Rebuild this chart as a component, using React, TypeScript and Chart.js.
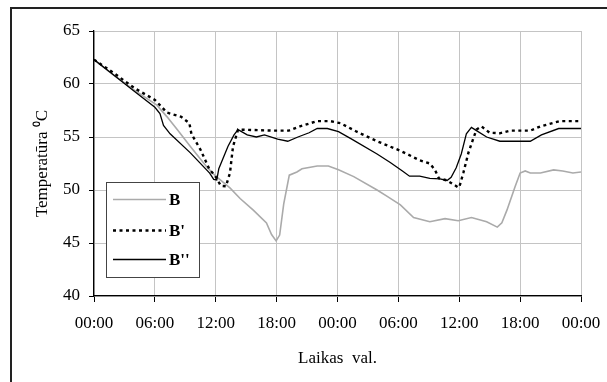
import { useEffect, useRef } from "react";
import { Chart, registerables } from "chart.js";

Chart.register(...registerables);

// ---- Data ----
const xTickLabels = ["00:00", "06:00", "12:00", "18:00", "00:00", "06:00", "12:00", "18:00", "00:00"];
const seriesLabels = ["B", "B'", "B''"];

const bHours = [0, 2, 4, 6.2, 7.2, 8.2, 9.5, 11.1, 12.0, 13.4, 14.4, 15.7, 17.0, 17.5, 17.95, 18.3, 18.7, 19.25, 20.0, 20.5, 22.0, 23.1, 24.1, 25.6, 27.9, 28.9, 30.2, 31.5, 33.1, 34.6, 35.9, 37.2, 38.7, 39.75, 40.2, 40.7, 41.5, 42.0, 42.5, 43.0, 44.0, 45.3, 46.2, 47.2, 48];
const bValues = [62.3, 60.8, 59.4, 58.0, 56.9, 55.7, 54.1, 52.2, 51.3, 50.2, 49.2, 48.1, 46.9, 45.8, 45.2, 45.75, 48.7, 51.4, 51.7, 52.0, 52.26, 52.26, 51.9, 51.26, 50.0, 49.4, 48.6, 47.4, 47.0, 47.3, 47.1, 47.4, 47.0, 46.5, 46.9, 48.1, 50.3, 51.6, 51.8, 51.6, 51.6, 51.9, 51.8, 51.6, 51.7];

const b1Hours = [0, 2, 4, 6, 6.6, 7.2, 8.6, 9.4, 9.6, 10.5, 11.4, 11.9, 12.5, 13.0, 13.4, 13.7, 14.2, 17.7, 19.2, 20.3, 22.0, 23.3, 24.3, 25.9, 27.9, 30.2, 32.1, 33.1, 33.6, 34.0, 34.8, 35.3, 35.9, 36.0, 36.4, 36.9, 37.4, 37.7, 38.2, 39.0, 40.0, 41.0, 43.0, 44.0, 45.9, 48];
const b1Values = [62.3, 61.0, 59.6, 58.5, 57.9, 57.3, 56.9, 56.3, 55.3, 53.8, 51.9, 51.4, 50.4, 50.35, 51.6, 54.1, 55.7, 55.6, 55.6, 56.0, 56.5, 56.5, 56.3, 55.5, 54.6, 53.7, 52.8, 52.5, 51.9, 51.1, 50.9, 50.6, 50.25, 50.25, 51.6, 53.5, 54.9, 55.7, 56.0, 55.4, 55.35, 55.6, 55.6, 56.0, 56.5, 56.5];

const b2Hours = [0, 2, 4, 6, 6.5, 6.85, 7.5, 9.5, 11.4, 11.8, 12.1, 12.3, 13.2, 13.8, 14.2, 15.1, 16.0, 16.8, 18.1, 19.1, 20.1, 21.2, 22.0, 23.0, 24.1, 25.4, 27.9, 29.2, 30.4, 31.1, 32.1, 33.1, 34.1, 34.8, 35.2, 35.7, 36.2, 36.7, 37.2, 37.7, 38.7, 40.0, 43.0, 44.1, 45.8, 48];
const b2Values = [62.3, 60.8, 59.3, 57.8, 57.2, 56.1, 55.3, 53.5, 51.6, 51.0, 50.95, 52.0, 54.1, 55.2, 55.7, 55.2, 55.0, 55.2, 54.8, 54.6, 55.0, 55.4, 55.8, 55.8, 55.5, 54.8, 53.4, 52.6, 51.8, 51.3, 51.3, 51.1, 51.05, 50.9, 51.2, 52.1, 53.4, 55.3, 55.9, 55.6, 55.0, 54.6, 54.6, 55.2, 55.8, 55.8];

const FONT = "'Liberation Serif', 'Times New Roman', serif";

const toPoints = (hs: number[], vs: number[]) => hs.map((h, i) => ({ x: h, y: vs[i] }));

const boxLegend = {
  id: "boxLegend",
  afterDatasetsDraw(chart: any) {
    const ctx = chart.ctx;
    const { left, top } = chart.chartArea;
    const bx = left + 12;
    const by = top + 151;
    const bw = 93;
    const bh = 95;
    ctx.save();
    ctx.fillStyle = "#ffffff";
    ctx.fillRect(bx, by, bw, bh);
    ctx.strokeStyle = "#444444";
    ctx.lineWidth = 1;
    ctx.strokeRect(bx + 0.5, by + 0.5, bw, bh);
    const rows = [17, 48, 77];
    chart.data.datasets.forEach((ds: any, i: number) => {
      const y = by + rows[i] + 0.5;
      ctx.beginPath();
      ctx.strokeStyle = ds.borderColor;
      ctx.lineWidth = ds.borderWidth;
      ctx.setLineDash(ds.borderDash || []);
      ctx.moveTo(bx + 7, y);
      ctx.lineTo(bx + 60, y);
      ctx.stroke();
      ctx.setLineDash([]);
      ctx.fillStyle = "#000000";
      ctx.font = `bold 17px ${FONT}`;
      ctx.textBaseline = "middle";
      ctx.textAlign = "left";
      ctx.fillText(ds.label, bx + 63, y + 1);
    });
    ctx.restore();
  },
};

export default function App() {
  const ref = useRef<HTMLCanvasElement>(null);
  useEffect(() => {
    const canvas = ref.current!;
    const chart = new Chart(canvas, {
      type: "line",
      data: {
        datasets: [
          {
            label: seriesLabels[0],
            data: toPoints(bHours, bValues),
            borderColor: "#aaaaaa",
            borderWidth: 1.6,
            pointRadius: 0,
            order: 3,
          },
          {
            label: seriesLabels[1],
            data: toPoints(b1Hours, b1Values),
            borderColor: "#000000",
            borderWidth: 2.4,
            borderDash: [3, 3.5],
            pointRadius: 0,
            order: 2,
          },
          {
            label: seriesLabels[2],
            data: toPoints(b2Hours, b2Values),
            borderColor: "#000000",
            borderWidth: 1.3,
            pointRadius: 0,
            order: 1,
          },
        ],
      },
      options: {
        responsive: false,
        animation: false,
        devicePixelRatio: 1,
        layout: { padding: { top: 31, right: 26, left: 0, bottom: 0 } },
        plugins: { legend: { display: false }, tooltip: { enabled: false } },
        scales: {
          x: {
            type: "linear",
            min: 0,
            max: 48,
            afterFit: (s: any) => {
              s.height = 86;
              s.paddingRight = 0;
              s.paddingLeft = 0;
            },
            ticks: {
              stepSize: 6,
              autoSkip: false,
              maxRotation: 0,
              padding: 11,
              color: "#000",
              font: { family: FONT, size: 17 },
              callback: (_v: any, i: number) => xTickLabels[i],
            },
            grid: { color: "#c4c4c4", tickColor: "#000", tickLength: 6, lineWidth: 1 },
            border: { color: "#000", width: 1.3 },
            title: {
              display: true,
              text: "Laikas  val.",
              color: "#000",
              font: { family: FONT, size: 17 },
              padding: { top: 0, bottom: 13 },
            },
          },
          y: {
            min: 40,
            max: 65,
            afterFit: (s: any) => {
              s.width = 94;
              s.paddingTop = 0;
              s.paddingBottom = 0;
            },
            ticks: {
              stepSize: 5,
              padding: 9,
              color: "#000",
              font: { family: FONT, size: 17 },
            },
            grid: { color: "#c4c4c4", tickColor: "#000", tickLength: 5, lineWidth: 1 },
            border: { color: "#000", width: 1.3 },
            title: {
              display: true,
              text: "Temperatūra ⁰C",
              color: "#000",
              font: { family: FONT, size: 17 },
              padding: { top: 32, bottom: 0 },
            },
          },
        },
      },
      plugins: [boxLegend],
    } as any);
    return () => chart.destroy();
  }, []);
  return (
    <div style={{ position: "fixed", left: 0, top: 0, width: 607, height: 382, overflow: "hidden", background: "#fff" }}>
      <canvas ref={ref} width={607} height={382} style={{ position: "absolute", left: 0, top: 0, width: 607, height: 382 }} />
      <div
        style={{
          position: "absolute",
          left: 10,
          top: 7,
          width: 800,
          height: 600,
          borderTop: "2px solid #222",
          borderLeft: "2px solid #222",
          pointerEvents: "none",
        }}
      />
    </div>
  );
}
